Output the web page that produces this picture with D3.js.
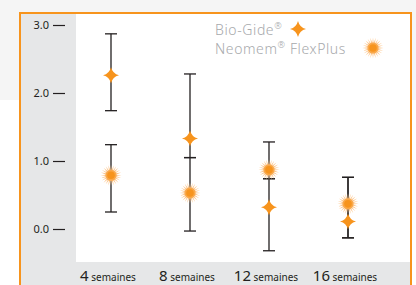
<!DOCTYPE html>
<html>
<head>
<meta charset="utf-8">
<script src="https://d3js.org/d3.v7.min.js"></script>
<style>
    body { margin: 0; background: #fff; }
    svg { display: block; }
    text { font-family: 'Noto Sans', sans-serif; }
</style>
</head>
<body>
<script>
    "use strict";
    const categories = ["4", "8", "12", "16"];
    const unitLabel = "semaines";
    const yTicks = [0, 1, 2, 3];

    // Bio-Gide
    const bioMean = [2.26, 1.33, 0.32, 0.11];
    const bioLow = [1.74, 1.05, -0.32, -0.13];
    const bioHigh = [2.87, 2.28, 0.74, 0.76];

    // Neomem FlexPlus
    const neoMean = [0.79, 0.53, 0.87, 0.37];
    const neoLow = [0.25, -0.03, 0.74, -0.13];
    const neoHigh = [1.24, 1.05, 1.28, 0.76];

    const W = 416, H = 285;
    const orange = "#f7941d";

    const svg = d3.select("body").append("svg")
        .attr("width", W)
        .attr("height", H);

    // page background
    svg.append("rect").attr("width", W).attr("height", H).attr("fill", "#fff");
    svg.append("rect").attr("width", W).attr("height", 100).attr("fill", "#f5f5f5");

    // frame
    const frame = { left: 20, top: 13, right: 411 };
    svg.append("rect")
        .attr("x", frame.left).attr("y", frame.top)
        .attr("width", frame.right - frame.left).attr("height", H)
        .attr("fill", "#fff");
    // grey panels
    svg.append("rect")
        .attr("x", frame.left).attr("y", frame.top)
        .attr("width", 76 - frame.left).attr("height", H)
        .attr("fill", "#e6e7e8");
    svg.append("rect")
        .attr("x", frame.left).attr("y", 262)
        .attr("width", frame.right - frame.left).attr("height", H - 262)
        .attr("fill", "#e6e7e8");
    svg.append("rect")
        .attr("x", frame.left).attr("y", frame.top)
        .attr("width", frame.right - frame.left).attr("height", H)
        .attr("fill", "none")
        .attr("stroke", orange)
        .attr("stroke-width", 2);

    const x = d3.scalePoint().domain(categories).range([111, 348]);
    const y = d3.scaleLinear().domain([0, 3]).range([229, 25]);

    // y axis
    const yAxis = svg.append("g")
        .attr("transform", "translate(65,0)")
        .call(d3.axisLeft(y).tickValues(yTicks).tickFormat(d3.format(".1f")).tickSize(12).tickPadding(4));
    yAxis.select(".domain").remove();
    yAxis.selectAll("line").attr("stroke", "#231f20").attr("stroke-width", 1.2);
    yAxis.selectAll("text")
        .attr("fill", "#231f20")
        .style("font-size", "11px");

    // x labels
    const xl = svg.append("g").selectAll("text")
        .data(categories)
        .join("text")
        .attr("x", d => x(d) - 3)
        .attr("y", 281)
        .attr("text-anchor", "middle")
        .attr("fill", "#231f20");
    xl.append("tspan").style("font-size", "15px").text(d => d);
    xl.append("tspan").style("font-size", "10px").text(" " + unitLabel);

    // error bars
    function errorBars(low, high) {
        const g = svg.append("g").attr("stroke", "#231f20").attr("stroke-width", 1.3);
        categories.forEach((c, i) => {
            g.append("line")
                .attr("x1", x(c)).attr("x2", x(c))
                .attr("y1", y(low[i])).attr("y2", y(high[i]));
            [low[i], high[i]].forEach(v => {
                g.append("line")
                    .attr("x1", x(c) - 6).attr("x2", x(c) + 6)
                    .attr("y1", y(v)).attr("y2", y(v));
            });
        });
    }
    errorBars(bioLow, bioHigh);
    errorBars(neoLow, neoHigh);

    // markers
    const starPath = "M0,-8Q1.6,-1.6 8,0Q1.6,1.6 0,8Q-1.6,1.6 -8,0Q-1.6,-1.6 0,-8Z";
    const sunPts = d3.range(48).map(i => [i * Math.PI / 24, i % 2 ? 5 : 10.5]);
    const sunPath = d3.lineRadial().curve(d3.curveLinearClosed)(sunPts);

    function drawStar(g, cx, cy) {
        g.append("path")
            .attr("transform", "translate(" + cx + "," + cy + ")")
            .attr("d", starPath)
            .attr("fill", orange);
    }
    function drawSun(g, cx, cy) {
        const s = g.append("g").attr("transform", "translate(" + cx + "," + cy + ")");
        s.append("path").attr("d", sunPath).attr("fill", "#fcc58a");
        s.append("circle").attr("r", 5.5).attr("fill", "#f9a84a");
        s.append("circle").attr("r", 3.8).attr("fill", "#f7941d");
    }

    const marks = svg.append("g");
    categories.forEach((c, i) => {
        drawSun(marks, x(c), y(neoMean[i]));
        drawStar(marks, x(c), y(bioMean[i]));
    });

    // legend
    const legend = svg.append("g")
        .attr("fill", "#a7a9ac")
        .style("font-size", "14px")
        .style("font-weight", 300)
        .style("letter-spacing", "0.6px");
    legend.append("text")
        .attr("x", 215).attr("y", 35)
        .html("Bio-Gide<tspan font-size='9px' baseline-shift='super'>®</tspan>");
    legend.append("text")
        .attr("x", 215).attr("y", 54)
        .html("Neomem<tspan font-size='9px' baseline-shift='super'>®</tspan> FlexPlus");
    drawStar(legend, 298, 29);
    drawSun(legend, 373, 48);
</script>
</body>
</html>
